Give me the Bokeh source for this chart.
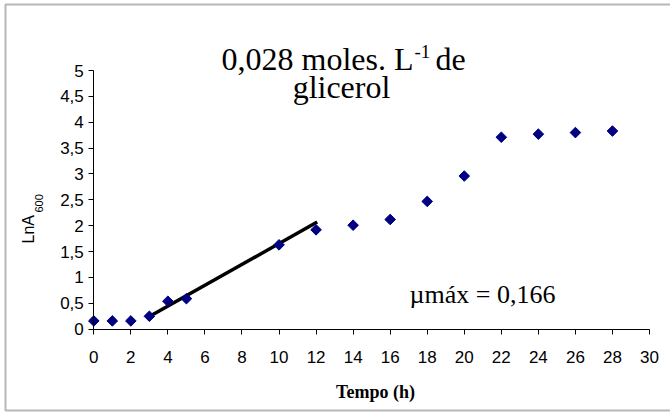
import math
from bokeh.plotting import figure
from bokeh.models import Label, BoxAnnotation, Range1d, FixedTicker
from bokeh.embed import file_html
from bokeh.resources import INLINE

# data
tempo = [0, 1, 2, 3, 4, 5, 10, 12, 14, 16, 18, 20, 22, 24, 26, 28]
ln_a600 = [0.16, 0.16, 0.16, 0.25, 0.54, 0.59, 1.63, 1.92, 2.01, 2.12, 2.47, 2.96, 3.71, 3.77, 3.80, 3.83]
fit_x = [3, 12.06]
fit_y = [0.245, 2.07]
x_ticks = list(range(0, 31, 2))
y_ticks = [0, 0.5, 1, 1.5, 2, 2.5, 3, 3.5, 4, 4.5, 5]
y_tick_labels = ["0", "0,5", "1", "1,5", "2", "2,5", "3", "3,5", "4", "4,5", "5"]

W, H = 670, 412
# plot-area pixel geometry (from the left/top of the canvas)
px_x0, px_x30 = 93.3, 649.0
px_y0, px_y5 = 328.7, 70.0
sx = (px_x30 - px_x0) / 30.0
sy = (px_y0 - px_y5) / 5.0
x_range = Range1d(-px_x0 / sx, 30 + (W - px_x30) / sx)
y_range = Range1d(-(H - px_y0) / sy, 5 + px_y5 / sy)

p = figure(width=W, height=H, output_backend="svg", toolbar_location=None,
           x_range=x_range, y_range=y_range,
           min_border=0, min_border_left=0, min_border_right=0,
           min_border_top=0, min_border_bottom=0)
p.outline_line_color = None
p.grid.grid_line_color = None
p.background_fill_color = "white"
p.border_fill_color = "white"

for ax in (p.xaxis[0], p.yaxis[0]):
    ax.fixed_location = 0
    ax.axis_line_color = "black"
    ax.major_tick_line_color = "black"
    ax.minor_tick_line_color = None
    ax.major_tick_in = 0
    ax.major_tick_out = 5
    ax.major_label_text_font = "Liberation Sans"
    ax.major_label_text_font_size = "17px"
    ax.major_label_text_color = "black"

p.xaxis.bounds = (0, 30)
p.yaxis.bounds = (0, 5)
p.xaxis.ticker = FixedTicker(ticks=x_ticks)
p.yaxis.ticker = FixedTicker(ticks=y_ticks)
p.yaxis.major_label_overrides = {t: l for t, l in zip(y_ticks, y_tick_labels)}
p.xaxis.major_label_standoff = 17
p.yaxis.major_label_standoff = 5

p.line(fit_x, fit_y, line_color="black", line_width=3.5)
p.scatter(tempo, ln_a600, marker="square", angle=math.pi / 4, size=7.5,
          fill_color="#000080", line_color="#000080")

def lab(text, x, y, size, font="Liberation Serif", align="left", angle=0, style="normal"):
    # y is the vertical middle of the text, measured from the top of the canvas
    p.add_layout(Label(x=x, y=H - y, x_units="screen", y_units="screen", text=text,
                       text_font=font, text_font_size=size, text_align=align,
                       text_baseline="middle", text_color="black", angle=angle,
                       text_font_style=style))

# title
lab("0,028 moles. L", 413, 58, "32px", align="right")
lab("-1", 414, 51, "19px")
lab("de", 435, 58, "32px")
lab("glicerol", 341, 86.5, "32px", align="center")
# annotation
lab("\u00b5m\u00e1x = 0,166", 409, 294, "26px")
# axis titles
lab("Tempo (h)", 375, 391, "18px", align="center", style="bold")
lab("LnA", 27.5, 243, "16px", font="Liberation Sans", angle=math.pi / 2)
lab("600", 38, 212, "11px", font="Liberation Sans", angle=math.pi / 2)

# chart border
p.add_layout(BoxAnnotation(left=5, right=W + 30, top=H - 4, bottom=H - 410,
                           left_units="screen", right_units="screen",
                           top_units="screen", bottom_units="screen",
                           fill_color=None, line_color="#111111", line_width=2))

open("out.html", "w").write(file_html(p, INLINE))
